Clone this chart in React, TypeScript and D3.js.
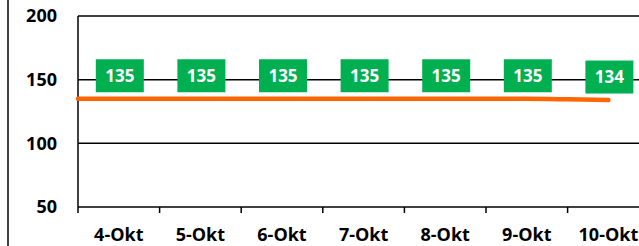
import React from 'react';
import * as d3 from 'd3';

// daily labels + values shown in the green boxes
const days = ['4-Okt', '5-Okt', '6-Okt', '7-Okt', '8-Okt', '9-Okt', '10-Okt'];
const dayValues = [135, 135, 135, 135, 135, 135, 134];

// the orange trend line (positions are day indexes, -0.5 = left edge)
const trendPos = [-0.5, 0, 1, 2, 3, 4, 5, 5.5, 6];
const trendValues = [135, 135, 135, 135, 135, 135, 135, 134.6, 134];

const yTicks = [50, 100, 150, 200];

const W = 639;
const H = 246;
const margin = { top: 16, left: 78, bottom: 39 };
const step = 81.6;
const font = "'Open Sans', sans-serif";

export default function App() {
  const y = d3.scaleLinear().domain([50, 200]).range([H - margin.bottom, margin.top]);
  const x = d3.scaleLinear().domain([0, 1]).range([margin.left + step / 2, margin.left + step * 1.5]);
  const right = margin.left + step * days.length;

  const line = d3.line<number>()
    .x((d, i) => x(trendPos[i]))
    .y(d => y(d))
    .curve(d3.curveMonotoneX);

  const boxW = 48, boxH = 33;

  return (
    <svg width={W} height={H} style={{ position: 'absolute', left: 0, top: 0, background: '#fff' }}>
      <line x1={8} x2={8} y1={0} y2={H} stroke="#404040" strokeWidth={2} />

      {yTicks.map(t => (
        <g key={t}>
          <line x1={margin.left} x2={right} y1={y(t)} y2={y(t)} stroke="#000" strokeWidth={1.5} />
          <text x={57} y={y(t)} dy="0.35em" textAnchor="end" fontFamily={font} fontWeight={700} fontSize={18} fill="#000">{t}</text>
        </g>
      ))}
      <line x1={margin.left} x2={margin.left} y1={y(200)} y2={y(50)} stroke="#000" strokeWidth={1.5} />

      {d3.range(days.length + 1).map(i => (
        <line key={i} x1={margin.left + i * step} x2={margin.left + i * step} y1={y(50)} y2={y(50) + 6} stroke="#000" strokeWidth={1.5} />
      ))}
      {days.map((d, i) => (
        <text key={d} x={x(i)} y={241} textAnchor="middle" fontFamily={font} fontWeight={700} fontSize={18} fill="#000">{d}</text>
      ))}

      <path d={line(trendValues) || ''} fill="none" stroke="#FF6600" strokeWidth={4.5} strokeLinecap="round" />

      {dayValues.map((v, i) => (
        <g key={i} transform={`translate(${x(i) + 1},${y(v) - 23})`}>
          <rect x={-boxW / 2} y={-boxH / 2} width={boxW} height={boxH} fill="#00B050" />
          <text y={0} dy="0.35em" textAnchor="middle" fontFamily={font} fontWeight={700} fontSize={17} fill="#fff">{v}</text>
        </g>
      ))}
    </svg>
  );
}
